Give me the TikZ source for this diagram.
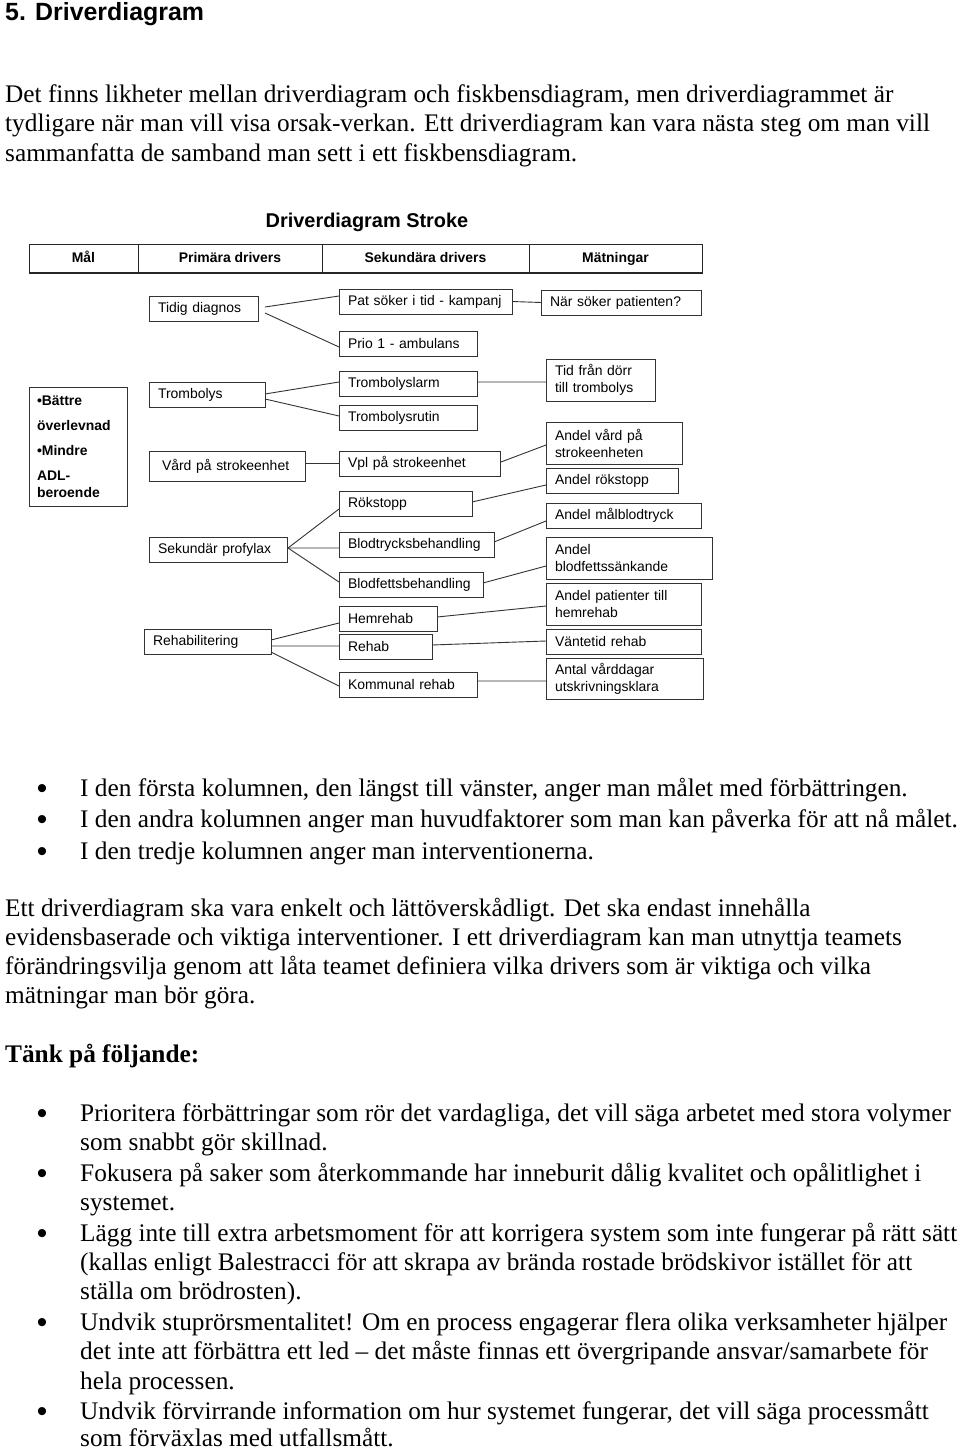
\documentclass[tikz,border=0pt]{standalone}
\usepackage{fontspec}
\setmainfont{Liberation Serif}
\newfontfamily\arial{Liberation Sans}
\usetikzlibrary{calc}
\tikzset{
  drvnode/.style={draw=black!80, line width=0.9bp, rectangle, inner xsep=9bp, inner ysep=1bp, outer sep=0pt, align=left, font=\arial\fontsize{14}{17}\selectfont},
  hdrcell/.style={draw=black!85, line width=0.9bp, rectangle, inner sep=0pt, outer sep=0pt, anchor=north west, minimum height=29bp, text height=10bp, text depth=2bp, font=\arial\bfseries\fontsize{14}{17}\selectfont},
  conn/.style={draw=black!80, line width=0.9bp},
  body/.style={anchor=base west, inner sep=0pt, font=\fontsize{25.4}{29}\selectfont},
  bodyb/.style={anchor=base west, inner sep=0pt, font=\bfseries\fontsize{25.4}{29}\selectfont},
  bul/.style={anchor=base, inner sep=0pt, font=\arial\fontsize{30}{30}\selectfont},
}
\newcommand\drvbox[6]{%
  \pgfmathtruncatemacro\drvtw{#4-18}%
  \node[drvnode, anchor=north west, minimum width=#4bp, minimum height=#5bp, text width=\drvtw bp] (#1) at (#2,#3) {#6};}
\begin{document}
\begin{tikzpicture}[x=1bp, y=-1bp]
\useasboundingbox (0,0) rectangle (960,1450);
\fill[white] (0,0) rectangle (960,1450);

% heading and intro
\node[anchor=base west, inner sep=0pt, font=\arial\bfseries\fontsize{25}{30}\selectfont] (h1) at (5,21) {5. Driverdiagram};
\node[body] (p1a) at (5,103) {Det finns likheter mellan driverdiagram och fiskbensdiagram, men driverdiagrammet är};
\node[body] (p1b) at (5,132) {tydligare när man vill visa orsak-verkan. Ett driverdiagram kan vara nästa steg om man vill};
\node[body] (p1c) at (5,162) {sammanfatta de samband man sett i ett fiskbensdiagram.};

% diagram title and header
\node[anchor=base, inner sep=0pt, font=\arial\bfseries\fontsize{20}{24}\selectfont] (title) at (367,227) {Driverdiagram Stroke};
\node[hdrcell, minimum width=109bp] (c1) at (29,244) {Mål};
\node[hdrcell, minimum width=184bp] (c2) at (138,244) {Primära drivers};
\node[hdrcell, minimum width=207bp] (c3) at (322,244) {Sekundära drivers};
\node[hdrcell, minimum width=173bp] (c4) at (529,244) {Mätningar};
\draw[black!85, line width=2.5bp] (c1.south west) -- (c4.south east);

% goal
\node[drvnode, anchor=north west, minimum width=98bp, minimum height=119bp, text width=82bp, inner xsep=8bp, font=\arial\bfseries\fontsize{14}{17}\selectfont] (goal) at (29,387)
  {•Bättre\\[8bp]överlevnad\\[8bp]•Mindre\\[8bp]ADL-\\beroende};

% primary drivers
\drvbox{tidig}{149}{296}{109}{25}{Tidig diagnos}
\drvbox{tromb}{149}{382}{116}{25}{Trombolys}
\drvbox{vard}{149}{451}{156}{30}{\hspace*{4bp}Vård på strokeenhet}
\drvbox{sek}{149}{537}{138}{25}{Sekundär profylax}
\drvbox{rehab}{144}{629}{127}{25}{Rehabilitering}

% secondary drivers
\drvbox{pat}{339}{289}{173}{25}{Pat söker i tid - kampanj}
\drvbox{prio}{339}{331}{138}{25}{Prio 1 - ambulans}
\drvbox{tlarm}{339}{371}{138}{25}{Trombolyslarm}
\drvbox{trutin}{339}{405}{138}{25}{Trombolysrutin}
\drvbox{vpl}{339}{451}{161}{25}{Vpl på strokeenhet}
\drvbox{rok}{339}{491}{133}{25}{Rökstopp}
\drvbox{bt}{339}{532}{155}{25}{Blodtrycksbehandling}
\drvbox{bf}{339}{572}{144}{25}{Blodfettsbehandling}
\drvbox{hem}{339}{606}{98}{25}{Hemrehab}
\drvbox{reh}{339}{634}{93}{25}{Rehab}
\drvbox{kom}{339}{672}{138}{25}{Kommunal rehab}

% measurements
\drvbox{nar}{541}{290}{160}{25}{När söker patienten?}
\drvbox{tid}{546}{359}{109}{42}{Tid från dörr\\till trombolys}
\drvbox{avard}{546}{422}{136}{42}{Andel vård på\\strokeenheten}
\drvbox{arok}{546}{468}{132}{25}{Andel rökstopp}
\drvbox{amal}{546}{503}{155}{25}{Andel målblodtryck}
\drvbox{ablf}{546}{537}{166}{42}{Andel\\blodfettssänkande}
\drvbox{apat}{546}{583}{155}{42}{Andel patienter till\\hemrehab}
\drvbox{vant}{546}{629}{155}{25}{Väntetid rehab}
\drvbox{antal}{546}{658}{157}{41}{Antal vårddagar\\utskrivningsklara}

% connectors
\draw[conn] ([shift={(7,-1.5)}]tidig.east) -- ([shift={(0,-5.5)}]pat.west);
\draw[conn] ([shift={(7,4.5)}]tidig.east) -- ([shift={(0,3.5)}]prio.west);
\draw[conn] (pat.east) -- (nar.west);
\draw[conn] ([shift={(0,-0.5)}]tromb.east) -- ([shift={(0,-1.5)}]tlarm.west);
\draw[conn] ([shift={(0,4.5)}]tromb.east) -- ([shift={(0,-1.5)}]trutin.west);
\draw[conn] ([shift={(0,-1.5)}]tlarm.east) -- ([shift={(0,2)}]tid.west);
\draw[conn] (vpl.west -| vard.east) -- (vpl.west);
\draw[conn] ([shift={(1,-1.5)}]vpl.east) -- ([shift={(0,2)}]avard.west);
\draw[conn] ([shift={(0,-1.5)}]rok.east) -- ([shift={(0,4.5)}]arok.west);
\draw[conn] ([shift={(1,-1.5)}]sek.east) -- ([shift={(0,5.5)}]rok.west);
\draw[conn] ([shift={(1,-1.5)}]sek.east) -- ([shift={(0,3.5)}]bt.west);
\draw[conn] ([shift={(1,-1.5)}]sek.east) -- ([shift={(0,-2.5)}]bf.west);
\draw[conn] ([shift={(0,-2.5)}]bt.east) -- ([shift={(0,5.5)}]amal.west);
\draw[conn] ([shift={(0,-1.5)}]bf.east) -- ([shift={(0,8)}]ablf.west);
\draw[conn] ([shift={(0,-1.5)}]hem.east) -- ([shift={(0,2)}]apat.west);
\draw[conn] ([shift={(0,-1.5)}]reh.east) -- ([shift={(0,-0.5)}]vant.west);
\draw[conn] ([shift={(0,-3.5)}]kom.east) -- ([shift={(0,2.5)}]antal.west);
\draw[conn] ([shift={(0,-1.5)}]rehab.east) -- ([shift={(0,4.5)}]hem.west);
\draw[conn] ([shift={(0,4.5)}]rehab.east) -- ([shift={(0,-0.5)}]reh.west);
\draw[conn] ([shift={(0,10.5)}]rehab.east) -- ([shift={(0,1.5)}]kom.west);

% first bullet list
\node[bul] (b1) at (42,798) {•};
\node[body] (l1) at (80,796) {I den första kolumnen, den längst till vänster, anger man målet med förbättringen.};
\node[bul] (b2) at (42,829) {•};
\node[body] (l2) at (80,827) {I den andra kolumnen anger man huvudfaktorer som man kan påverka för att nå målet.};
\node[bul] (b3) at (42,861) {•};
\node[body] (l3) at (80,859) {I den tredje kolumnen anger man interventionerna.};

% paragraph
\node[body] (p2a) at (5,916) {Ett driverdiagram ska vara enkelt och lättöverskådligt. Det ska endast innehålla};
\node[body] (p2b) at (5,945) {evidensbaserade och viktiga interventioner. I ett driverdiagram kan man utnyttja teamets};
\node[body] (p2c) at (5,974) {förändringsvilja genom att låta teamet definiera vilka drivers som är viktiga och vilka};
\node[body] (p2d) at (5,1003) {mätningar man bör göra.};

\node[bodyb] (tank) at (5,1062) {Tänk på följande:};

% second bullet list
\node[bul] (d1) at (42,1123) {•};
\node[body] (m1a) at (80,1121) {Prioritera förbättringar som rör det vardagliga, det vill säga arbetet med stora volymer};
\node[body] (m1b) at (80,1150) {som snabbt gör skillnad.};
\node[bul] (d2) at (42,1183) {•};
\node[body] (m2a) at (80,1181) {Fokusera på saker som återkommande har inneburit dålig kvalitet och opålitlighet i};
\node[body] (m2b) at (80,1210) {systemet.};
\node[bul] (d3) at (42,1243) {•};
\node[body] (m3a) at (80,1241) {Lägg inte till extra arbetsmoment för att korrigera system som inte fungerar på rätt sätt};
\node[body] (m3b) at (80,1270) {(kallas enligt Balestracci för att skrapa av brända rostade brödskivor istället för att};
\node[body] (m3c) at (80,1299) {ställa om brödrosten).};
\node[bul] (d4) at (42,1332) {•};
\node[body] (m4a) at (80,1330) {Undvik stuprörsmentalitet! Om en process engagerar flera olika verksamheter hjälper};
\node[body] (m4b) at (80,1359) {det inte att förbättra ett led – det måste finnas ett övergripande ansvar/samarbete för};
\node[body] (m4c) at (80,1389) {hela processen.};
\node[bul] (d5) at (42,1421) {•};
\node[body] (m5a) at (80,1419) {Undvik förvirrande information om hur systemet fungerar, det vill säga processmått};
\node[body] (m5b) at (80,1446) {som förväxlas med utfallsmått.};
\end{tikzpicture}
\end{document}
